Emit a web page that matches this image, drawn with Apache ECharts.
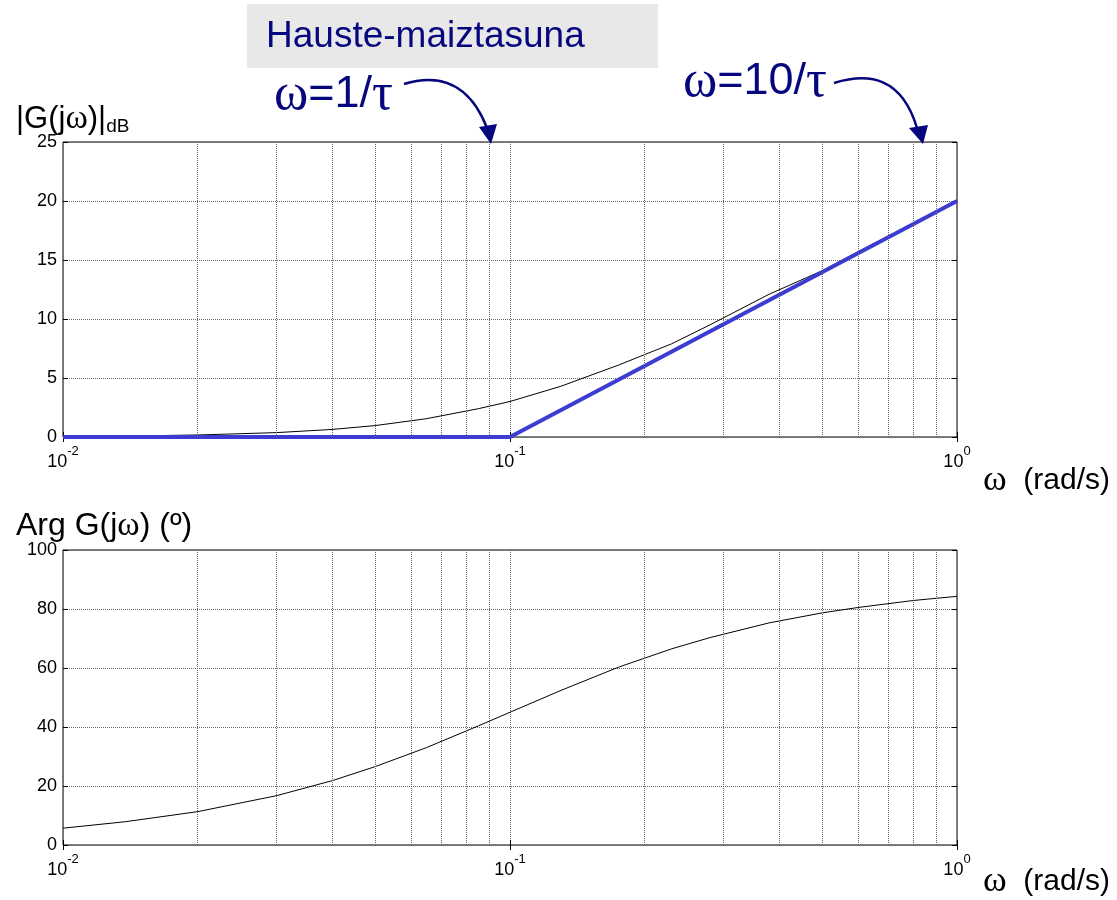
<!DOCTYPE html>
<html>
<head>
<meta charset="utf-8">
<script src="https://cdn.jsdelivr.net/npm/echarts@6/dist/echarts.min.js"></script>
<style>
  html, body { margin: 0; padding: 0; background: #fff; }
  #chart { width: 1117px; height: 900px; }
</style>
</head>
<body>
<div id="chart"></div>
<script>
// Bode diagram of G(s) = 1 + τs (τ = 10 s): magnitude and phase against frequency.
const omega = [0.01, 0.0138, 0.02, 0.03, 0.04, 0.05, 0.065, 0.085, 0.1, 0.13, 0.175, 0.23, 0.28, 0.38, 0.5, 0.6, 0.8, 1.0];
const magDb = [0.04, 0.08, 0.17, 0.37, 0.64, 0.97, 1.55, 2.4, 3.01, 4.3, 6.1, 7.9, 9.5, 12.1, 14.1, 15.7, 18.1, 20.04];
const phaseDeg = [5.7, 7.9, 11.3, 16.7, 21.8, 26.6, 33.0, 40.4, 45.0, 52.4, 60.3, 66.5, 70.3, 75.3, 78.7, 80.5, 82.9, 84.3];

// straight-line (asymptotic) approximation of the magnitude
const asymOmega = [0.01, 0.1, 1.0];
const asymDb = [0, 0, 20];

// frequency range and minor decade grid lines
const omegaMin = 0.01, omegaMax = 1;
const minorOmega = [0.02, 0.03, 0.04, 0.05, 0.06, 0.07, 0.08, 0.09, 0.2, 0.3, 0.4, 0.5, 0.6, 0.7, 0.8, 0.9];

// vertical axis ranges
const magRange = { min: 0, max: 25, step: 5 };
const phaseRange = { min: 0, max: 100, step: 20 };

const SANS = '"Liberation Sans", Arial, Helvetica, sans-serif';
const SERIF = '"Liberation Serif", "Times New Roman", serif';
const NAVY = '#06067f';
const GRID_COLOR = '#666';
const GRID_DASH = [1, 1];

const zip = (xs, ys) => xs.map((x, i) => [x, ys[i]]);

function logXAxis(gridIndex, position) {
  const isBottom = position === 'bottom';
  return {
    type: 'log', logBase: 10, gridIndex, position,
    min: omegaMin, max: omegaMax,
    axisLine: { show: false },
    axisTick: { show: true, inside: true, length: 5, lineStyle: { color: '#000' } },
    splitLine: { show: isBottom, lineStyle: { color: GRID_COLOR, type: GRID_DASH, width: 1 } },
    axisLabel: {
      show: isBottom, margin: 8,
      formatter: v => '{b|10}{s|' + Math.round(Math.log10(v)) + '}',
      rich: {
        b: { fontFamily: SANS, fontSize: 18, color: '#000', lineHeight: 26, verticalAlign: 'bottom' },
        s: { fontFamily: SANS, fontSize: 13, color: '#000', lineHeight: 26, verticalAlign: 'top' }
      }
    }
  };
}

function valYAxis(gridIndex, position, range) {
  const isLeft = position === 'left';
  return {
    type: 'value', gridIndex, position,
    min: range.min, max: range.max, interval: range.step,
    axisLine: { show: false },
    axisTick: { show: true, inside: true, length: 5, lineStyle: { color: '#000' } },
    splitLine: { show: isLeft, lineStyle: { color: GRID_COLOR, type: GRID_DASH, width: 1 } },
    axisLabel: { show: isLeft, margin: 6, fontFamily: SANS, fontSize: 18, color: '#000' }
  };
}

const minorGrid = {
  silent: true, symbol: ['none', 'none'], animation: false,
  label: { show: false },
  lineStyle: { color: GRID_COLOR, type: GRID_DASH, width: 1 },
  emphasis: { disabled: true },
  data: minorOmega.map(w => ({ xAxis: w }))
};

const chart = echarts.init(document.getElementById('chart'), null, { renderer: 'canvas' });

chart.setOption({
  animation: false,
  backgroundColor: '#fff',
  grid: [
    { left: 63, top: 142, width: 894, height: 295, show: true, borderColor: '#000', borderWidth: 1, backgroundColor: 'transparent' },
    { left: 63, top: 550, width: 894, height: 295, show: true, borderColor: '#000', borderWidth: 1, backgroundColor: 'transparent' }
  ],
  xAxis: [logXAxis(0, 'bottom'), logXAxis(0, 'top'), logXAxis(1, 'bottom'), logXAxis(1, 'top')],
  yAxis: [valYAxis(0, 'left', magRange), valYAxis(0, 'right', magRange), valYAxis(1, 'left', phaseRange), valYAxis(1, 'right', phaseRange)],
  series: [
    {
      name: '|G(jω)| dB', type: 'line', xAxisIndex: 0, yAxisIndex: 0,
      data: zip(omega, magDb), symbol: 'none', smooth: false,
      lineStyle: { color: '#000', width: 1 },
      markLine: minorGrid, z: 3
    },
    {
      name: 'asintota', type: 'line', xAxisIndex: 0, yAxisIndex: 0,
      data: zip(asymOmega, asymDb), symbol: 'none',
      lineStyle: { color: '#3c3cd2', width: 4, cap: 'butt', join: 'miter' }, z: 4
    },
    {
      name: 'Arg G(jω)', type: 'line', xAxisIndex: 2, yAxisIndex: 2,
      data: zip(omega, phaseDeg), symbol: 'none',
      lineStyle: { color: '#000', width: 1 },
      markLine: minorGrid, z: 3
    }
  ],
  graphic: [
    // heading box
    { type: 'rect', shape: { x: 247, y: 4, width: 411, height: 64 }, style: { fill: '#e8e8e8' }, z: 10 },
    { type: 'text', x: 266, y: 37, z: 11,
      style: { text: 'Hauste-maiztasuna', font: '37px ' + SANS, fill: NAVY, verticalAlign: 'middle' } },

    // corner frequency callouts
    { type: 'text', x: 274, y: 95, z: 11,
      style: {
        text: '{w|ω}=1/{w|τ}', verticalAlign: 'middle', fill: NAVY, font: '45px ' + SANS,
        rich: { w: { fontFamily: SERIF, fontSize: 52, fill: NAVY } }
      } },
    { type: 'bezierCurve', z: 11,
      shape: { x1: 404, y1: 84, cpx1: 440, cpy1: 73, cpx2: 470, cpy2: 84, x2: 487, y2: 128 },
      style: { stroke: NAVY, lineWidth: 2.5, fill: null } },
    { type: 'polygon', z: 11, shape: { points: [[479, 127], [497, 124], [491, 144]] }, style: { fill: NAVY } },

    { type: 'text', x: 683, y: 82, z: 11,
      style: {
        text: '{w|ω}=10/{w|τ}', verticalAlign: 'middle', fill: NAVY, font: '45px ' + SANS,
        rich: { w: { fontFamily: SERIF, fontSize: 52, fill: NAVY } }
      } },
    { type: 'bezierCurve', z: 11,
      shape: { x1: 834, y1: 83, cpx1: 870, cpy1: 72, cpx2: 902, cpy2: 78, x2: 917, y2: 128 },
      style: { stroke: NAVY, lineWidth: 2.5, fill: null } },
    { type: 'polygon', z: 11, shape: { points: [[909, 128], [928, 125], [923, 144]] }, style: { fill: NAVY } },

    // axis titles
    { type: 'text', x: 16, y: 119, z: 11,
      style: {
        text: '|G(j{w|ω})|{d|dB}', verticalAlign: 'middle', fill: '#000', font: '31px ' + SANS,
        rich: {
          w: { fontFamily: SERIF, fontSize: 34, fill: '#000' },
          d: { fontFamily: SANS, fontSize: 19, fill: '#000', padding: [16, 0, 0, 0] }
        }
      } },
    { type: 'text', x: 16, y: 526, z: 11,
      style: {
        text: 'Arg G(j{w|ω}) (º)', verticalAlign: 'middle', fill: '#000', font: '32px ' + SANS,
        rich: { w: { fontFamily: SERIF, fontSize: 34, fill: '#000' } }
      } },
    { type: 'text', x: 983, y: 481, z: 11,
      style: {
        text: '{w|ω}  (rad/s)', verticalAlign: 'middle', fill: '#000', font: '30px ' + SANS,
        rich: { w: { fontFamily: SERIF, fontSize: 36, fill: '#000' } }
      } },
    { type: 'text', x: 983, y: 882, z: 11,
      style: {
        text: '{w|ω}  (rad/s)', verticalAlign: 'middle', fill: '#000', font: '30px ' + SANS,
        rich: { w: { fontFamily: SERIF, fontSize: 36, fill: '#000' } }
      } }
  ]
});
</script>
</body>
</html>
